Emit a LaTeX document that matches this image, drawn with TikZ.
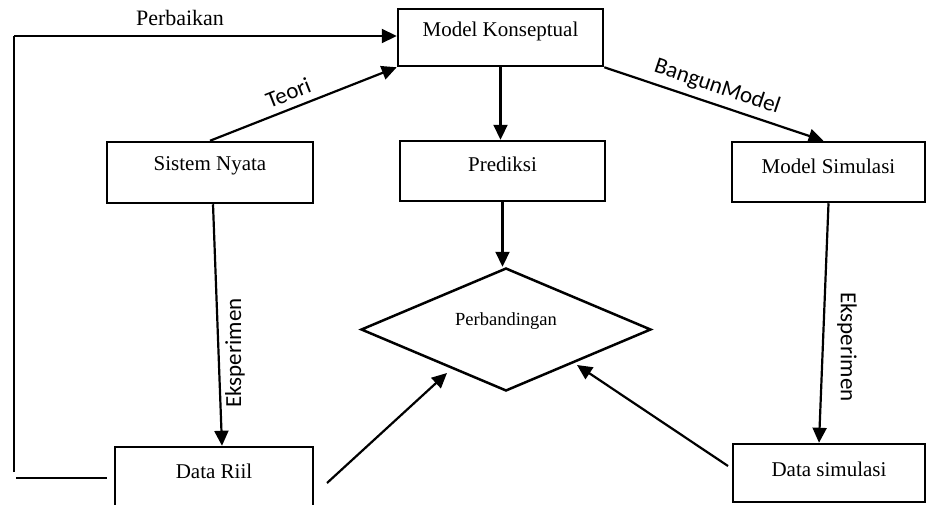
\documentclass[tikz,border=0pt]{standalone}
\usepackage{fontspec}
\setmainfont{Liberation Serif}
\newfontfamily\lblfont{Carlito}
\usetikzlibrary{arrows.meta,shapes.geometric}
\newcommand\liftt[2]{\raisebox{#1}[\height][\depth]{#2}}
\begin{document}
\begin{tikzpicture}[x=1pt,y=-1pt,
  box/.style={draw, line width=2.5pt, inner sep=0pt, font=\fontsize{21}{21}\selectfont},
  arr/.style={line width=2.2pt, -{Triangle[length=15pt,width=14pt]}},
  thinline/.style={line width=1.3pt},
  lbl/.style={font=\lblfont\fontsize{23}{23}\selectfont, inner sep=0pt}]
\useasboundingbox (0,0) rectangle (928,504);
\clip (0,0) rectangle (928,504);
\fill[white] (0,0) rectangle (928,504);

% boxes
\node[box, minimum width=205pt, minimum height=57pt] (mk) at (500.5,37.5) {\liftt{6pt}{Model Konseptual}};
\node[box, minimum width=206pt, minimum height=61pt] (sn) at (210,172.5) {\liftt{7pt}{Sistem Nyata}};
\node[box, minimum width=205pt, minimum height=60pt] (pr) at (502.5,171) {\liftt{7pt}{Prediksi}};
\node[box, minimum width=193pt, minimum height=60pt] (ms) at (828.5,172) {\liftt{6pt}{Model Simulasi}};
\node[box, minimum width=198pt, minimum height=60pt] (dr) at (214,477) {\liftt{6pt}{Data Riil}};
\node[box, minimum width=192pt, minimum height=58pt] (ds) at (829,473) {\liftt{4pt}{Data simulasi}};
\node[draw, diamond, aspect=2.36, line width=2.5pt, inner sep=0pt,
      minimum width=290pt, minimum height=123pt,
      font=\fontsize{18.5}{18.5}\selectfont] (cmp) at (506,329.5) {\liftt{8pt}{Perbandingan}};

% coordinates for free ends
\coordinate (fb1) at (14,36);
\coordinate (fb2) at (14,472);
\coordinate (fb3) at (16,478);
\coordinate (fb4) at (107,478);
\coordinate (t1s) at (327,483);
\coordinate (t1e) at (447,373);
\coordinate (t2s) at (728,466);
\coordinate (t2e) at (577,365);

% connectors
\draw[arr] (mk.south) -- (mk.south |- pr.north);
\draw[arr] (pr.south) -- (pr.south |- cmp.north);
\draw[arr] (sn.north) -- (mk.south west)
  node[lbl, pos=0.45, sloped, above=7pt] {Teori};
\draw[arr] (mk.south east) -- ([xshift=-5pt]ms.north)
  node[lbl, pos=0.49, sloped, above=6pt] {BangunModel};
\draw[arr] ([xshift=3pt]sn.south) -- ([xshift=8pt]dr.north);
\node[lbl, rotate=90] (e1) at (235,353) {Eksperimen};
\draw[arr] (ms.south) -- ([xshift=-10pt]ds.north);
\node[lbl, rotate=-90] (e2) at (847,347) {Eksperimen};
\draw[arr] (t1s) -- (t1e);
\draw[arr] (t2s) -- (t2e);

% feedback
\draw[thinline] (fb2) -- (fb1);
\draw[arr] (fb1) -- (mk.west |- fb1);
\draw[thinline] (fb3) -- (fb4);
\node[font=\fontsize{22}{22}\selectfont, inner sep=0pt] (perb) at (180,18) {Perbaikan};
\end{tikzpicture}
\end{document}
